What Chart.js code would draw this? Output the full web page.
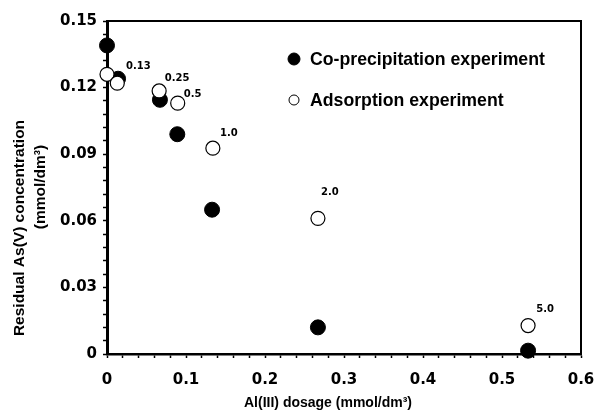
<!DOCTYPE html>
<html>
<head>
<meta charset="utf-8">
<style>
  html, body { margin: 0; padding: 0; background: #fff; }
  #wrap { width: 594px; height: 418px; position: relative; }
</style>
<script src="https://cdn.jsdelivr.net/npm/chart.js@4/dist/chart.umd.min.js"></script>
</head>
<body>
<div id="wrap"><canvas id="grafico"></canvas></div>
<script>
// Al(III) dosage (mmol/dm3) and residual As(V) (mmol/dm3)
var dosisCopre = [0, 0.014, 0.067, 0.089, 0.133, 0.267, 0.533];
var asCopre    = [0.139, 0.124, 0.1145, 0.099, 0.065, 0.012, 0.0015];
var dosisAds   = [0, 0.013, 0.066, 0.0895, 0.134, 0.267, 0.533];
var asAds      = [0.126, 0.122, 0.1185, 0.113, 0.0927, 0.0611, 0.0128];
// Al/As molar ratio written next to the adsorption points (null = no label)
var etiquetasRatio = [null, '0.13', '0.25', '0.5', '1.0', '2.0', '5.0'];

var nombresSeries = ['Co-precipitation experiment', 'Adsorption experiment'];
var ticksY = [0, 0.03, 0.06, 0.09, 0.12, 0.15];
var ticksX = [0, 0.1, 0.2, 0.3, 0.4, 0.5, 0.6];

// label offsets from their point, in px
var desplazEtiqueta = [null, [21, -17], [18, -13], [15, -9], [16, -15], [12, -26], [17, -16]];

function puntos(xs, ys) {
    return xs.map(function (x, i) { return { x: x, y: ys[i] }; });
}

function esMayor(v, lista) {
    return lista.some(function (t) { return Math.abs(v - t) < 1e-9; });
}

var fuenteTicks = { family: 'DejaVu Sans', size: 15, weight: 'bold' };

var extras = {
    id: 'extras',
    afterDraw: function (chart) {
        var c = chart.ctx, a = chart.chartArea;
        c.save();
        // top and right frame
        c.strokeStyle = '#000';
        c.lineWidth = 2;
        c.beginPath();
        c.moveTo(a.left, a.top);
        c.lineTo(a.right, a.top);
        c.lineTo(a.right, a.bottom);
        c.stroke();

        // ratio labels
        var meta = chart.getDatasetMeta(1);
        c.fillStyle = '#000';
        c.font = 'bold 10px "DejaVu Sans"';
        c.textAlign = 'center';
        c.textBaseline = 'middle';
        etiquetasRatio.forEach(function (t, i) {
            if (!t) return;
            var p = meta.data[i];
            c.fillText(t, p.x + desplazEtiqueta[i][0], p.y + desplazEtiqueta[i][1]);
        });

        // legend inside the plot
        var lx = 294, ly = [59, 100];
        var ds = chart.data.datasets;
        c.font = 'bold 17.7px "Liberation Sans"';
        c.textAlign = 'left';
        ds.forEach(function (d, i) {
            c.beginPath();
            c.arc(lx, ly[i], i === 0 ? 6 : 5, 0, Math.PI * 2);
            c.fillStyle = d.backgroundColor;
            c.fill();
            c.lineWidth = 1;
            c.strokeStyle = '#000';
            c.stroke();
            c.fillStyle = '#000';
            c.fillText(nombresSeries[i], 310, ly[i] + 1);
        });

        // axis titles
        c.font = 'bold 14px "Liberation Sans"';
        c.textAlign = 'center';
        c.fillText('Al(III) dosage (mmol/dm\u00b3)', 328, 403);
        c.translate(20, 228);
        c.rotate(-Math.PI / 2);
        c.font = 'bold 15.5px "Liberation Sans"';
        c.fillText('Residual As(V) concentration', 0, 0);
        c.fillText('(mmol/dm\u00b3)', 41, 21);
        c.restore();
    }
};

new Chart(document.getElementById('grafico'), {
    type: 'scatter',
    data: {
        datasets: [
            {
                label: nombresSeries[0],
                data: puntos(dosisCopre, asCopre),
                backgroundColor: '#000',
                borderColor: '#000',
                borderWidth: 1,
                pointRadius: 7.5,
                order: 1,
                clip: false
            },
            {
                label: nombresSeries[1],
                data: puntos(dosisAds, asAds),
                backgroundColor: '#fff',
                borderColor: '#000',
                borderWidth: 1.2,
                pointRadius: 7,
                order: 0,
                clip: false
            }
        ]
    },
    options: {
        responsive: true,
        maintainAspectRatio: false,
        animation: false,
        layout: { padding: { left: 0, right: 13, top: 21, bottom: 0 } },
        plugins: { legend: { display: false }, tooltip: { enabled: false } },
        scales: {
            x: {
                type: 'linear', min: 0, max: 0.6,
                afterFit: function (s) { s.height = 64; s.paddingLeft = 0; s.paddingRight = 0; },
                border: { display: true, color: '#000', width: 2.5 },
                grid: { drawOnChartArea: false, tickLength: 4, tickColor: '#000', tickWidth: 1.5 },
                ticks: {
                    stepSize: 0.02, autoSkip: false, maxRotation: 0,
                    color: '#000', font: fuenteTicks, padding: 13,
                    callback: function (v) { return esMayor(v, ticksX) ? String(Math.round(v * 10) / 10) : ''; }
                }
            },
            y: {
                type: 'linear', min: 0, max: 0.15,
                afterFit: function (s) { s.width = 107; s.paddingTop = 0; s.paddingBottom = 0; },
                border: { display: true, color: '#000', width: 3 },
                grid: { drawOnChartArea: false, tickLength: 4, tickColor: '#000', tickWidth: 1.5 },
                ticks: {
                    stepSize: 0.006, autoSkip: false,
                    color: '#000', font: fuenteTicks, padding: 6,
                    callback: function (v) { return esMayor(v, ticksY) ? String(Math.round(v * 100) / 100) : ''; }
                }
            }
        }
    },
    plugins: [extras]
});
</script>
</body>
</html>
